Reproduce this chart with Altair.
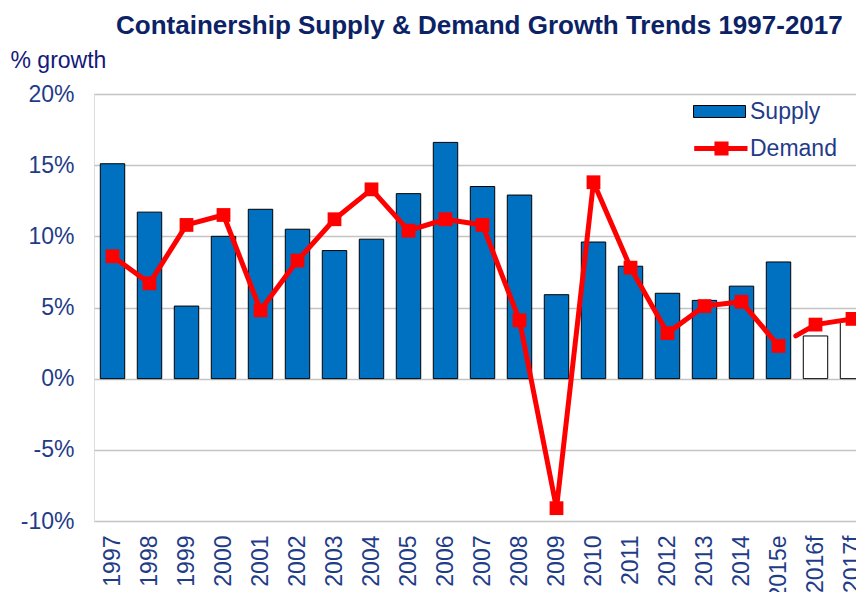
import altair as alt
import pandas as pd

years = ["1997", "1998", "1999", "2000", "2001", "2002", "2003", "2004", "2005", "2006",
         "2007", "2008", "2009", "2010", "2011", "2012", "2013", "2014", "2015e", "2016f", "2017f"]
supply = [15.1, 11.7, 5.1, 10.0, 11.9, 10.5, 9.0, 9.8, 13.0, 16.6,
          13.5, 12.9, 5.9, 9.6, 7.9, 6.0, 5.5, 6.5, 8.2, 3.0, 4.0]
demand = [8.6, 6.7, 10.8, 11.5, 4.8, 8.3, 11.2, 13.3, 10.4, 11.2,
          10.8, 4.1, -9.1, 13.8, 7.8, 3.2, 5.1, 5.4, 2.3, 3.8, 4.2]
y_ticks = [-10, -5, 0, 5, 10, 15, 20]

forecast = [y.endswith("f") for y in years]
dashed = [forecast[i] or (i + 1 < len(years) and forecast[i + 1]) for i in range(len(years))]

df = pd.DataFrame({"year": years, "supply": supply, "demand": demand,
                   "forecast": forecast, "dashed": dashed})

FONT = "Liberation Sans"
LABEL_C = "#1F3C88"
NAVY = "#14197A"
TITLE_C = "#0B2366"
BLUE = "#0070C0"
RED = "#FF0000"

xenc = alt.X("year:N", sort=years,
             scale=alt.Scale(paddingInner=0.34, paddingOuter=0.17),
             axis=alt.Axis(title=None, labelAngle=-90, labelFontSize=23, labelColor=LABEL_C,
                           labelFont=FONT, ticks=False, domain=False, labelPadding=14,
                           grid=False))

yscale = alt.Scale(domain=[-10, 20], nice=False, zero=True)
yaxis = alt.Axis(values=y_ticks, labelExpr="datum.value + '%'", grid=True,
                 gridColor="#C4C4C4", gridWidth=1.5, domain=False, ticks=False,
                 labelPadding=20, labelFontSize=23, labelColor=LABEL_C, labelFont=FONT,
                 title="% growth", titleAngle=0, titleX=-84, titleY=-27,
                 titleAlign="left", titleBaseline="alphabetic", titleFontWeight="normal",
                 titleFontSize=23, titleColor=NAVY, titleFont=FONT)

supply_legend = alt.Legend(
    title=None, orient="none", legendX=599, legendY=4, padding=0,
    symbolType="M-1,-0.46H3V0.46H-1Z", symbolSize=676,
    symbolStrokeColor="black", symbolStrokeWidth=1, symbolOpacity=1,
    labelFontSize=23, labelColor=LABEL_C, labelFont=FONT, labelOffset=30)

demand_legend = alt.Legend(
    title=None, orient="none", legendX=599, legendY=39, padding=0,
    symbolType="M-1.1,0H3M0.65,-0.35H1.35V0.35H0.65Z", symbolSize=676,
    symbolStrokeWidth=5, symbolOpacity=1,
    labelFontSize=23, labelColor=LABEL_C, labelFont=FONT, labelOffset=26)

bars = alt.Chart(df).transform_calculate(series="'Supply'").mark_bar(
    stroke="black", strokeWidth=1
).encode(
    x=xenc,
    y=alt.Y("supply:Q", scale=yscale, axis=yaxis),
    fill=alt.condition("datum.forecast", alt.value("white"),
                       alt.Fill("series:N", scale=alt.Scale(domain=["Supply"], range=[BLUE]),
                                legend=supply_legend)),
)

line_solid = alt.Chart(df).transform_filter("!datum.forecast").transform_calculate(
    series="'Demand'").mark_line(strokeWidth=5, strokeJoin="round", strokeCap="round").encode(
    x=alt.X("year:N", sort=years),
    y=alt.Y("demand:Q"),
    stroke=alt.Stroke("series:N", scale=alt.Scale(domain=["Demand"], range=[RED]),
                      legend=demand_legend),
)

line_dashed = alt.Chart(df).transform_filter("datum.dashed").mark_line(
    strokeWidth=5, strokeCap="round", color=RED, strokeDash=[5, 15, 400, 1]
).encode(
    x=alt.X("year:N", sort=years),
    y=alt.Y("demand:Q"),
)

points = alt.Chart(df).mark_point(shape="square", filled=True, size=190, color=RED,
                                  opacity=1).encode(
    x=alt.X("year:N", sort=years),
    y=alt.Y("demand:Q"),
)

chart = alt.layer(bars, line_solid, line_dashed, points).properties(
    width=777, height=427,
    title=alt.TitleParams("Containership Supply & Demand Growth Trends 1997-2017",
                          anchor="start", dx=106, fontSize=26, font=FONT,
                          fontWeight="bold", color=TITLE_C, offset=10),
    autosize=alt.AutoSizeParams(type="none"),
    padding={"left": 86, "top": 86, "right": -15, "bottom": 71},
).configure_view(stroke=None).configure(background="white")

chart.save("out.html", embed_options={"renderer": "svg", "actions": False})
